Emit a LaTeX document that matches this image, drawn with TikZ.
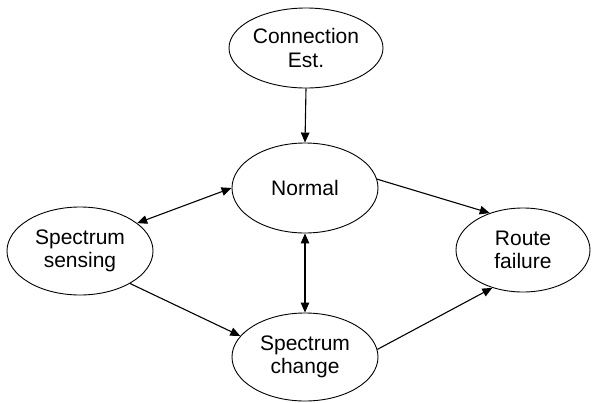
\documentclass[tikz,border=0pt]{standalone}
\usepackage{fontspec}
\setmainfont{Liberation Sans}
\usetikzlibrary{shapes.geometric,arrows.meta}
\begin{document}
\begin{tikzpicture}[x=1pt,y=-1pt,
  state/.style={draw, ellipse, line width=0.9pt, inner sep=0pt, align=center,
    font=\fontsize{21}{23.5}\selectfont},
  link/.style={line width=1.1pt, -{Triangle[length=10pt,width=8.5pt]}},
  blink/.style={line width=1.1pt, {Triangle[length=10pt,width=8.5pt]}-{Triangle[length=10pt,width=8.5pt]}}]
\useasboundingbox (0,0) rectangle (592,402);

\node[state, minimum width=154pt, minimum height=80pt] (conn) at (306,48) {Connection\\Est.};
\node[state, minimum width=146pt, minimum height=90pt] (normal) at (305,188) {Normal};
\node[state, minimum width=146pt, minimum height=88pt] (sens) at (80,251) {Spectrum\\sensing};
\node[state, minimum width=134pt, minimum height=84pt] (route) at (523,250) {Route\\failure};
\node[state, minimum width=146pt, minimum height=88pt] (change) at (305,357) {Spectrum\\change};

\draw[link] (conn.south) -- (normal.north);
\draw[blink] (sens.26) -- (normal.west);
\draw[link] (normal.7) -- (route.132);
\draw[blink] (normal.south) -- (change.north);
\draw[link] (sens.-33) -- (change.162);
\draw[link] (change.6) -- (route.-129);
\end{tikzpicture}
\end{document}
